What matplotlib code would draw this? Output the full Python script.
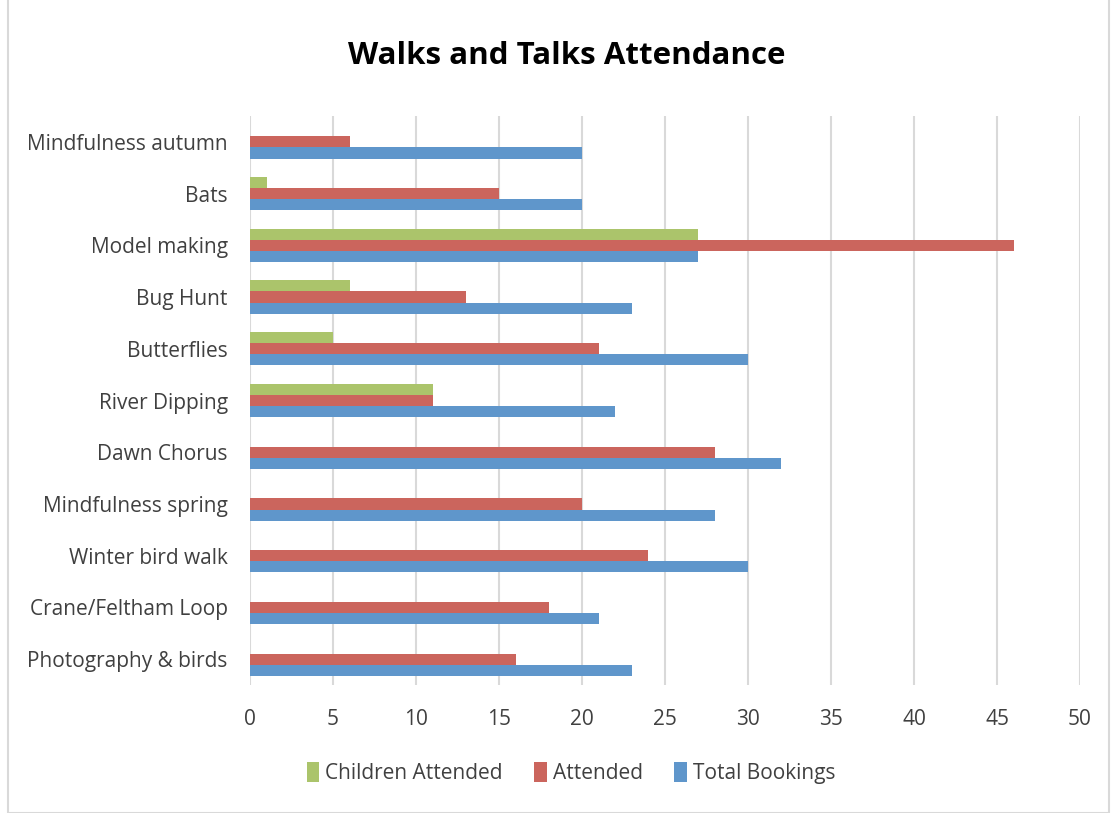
import matplotlib.pyplot as plt
import matplotlib as mpl
import numpy as np

mpl.rcParams['font.family'] = ['Open Sans', 'DejaVu Sans']

# categories listed bottom to top
categories = ["Photography & birds", "Crane/Feltham Loop", "Winter bird walk",
              "Mindfulness spring", "Dawn Chorus", "River Dipping", "Butterflies",
              "Bug Hunt", "Model making", "Bats", "Mindfulness autumn"]
total_bookings = [23, 21, 30, 28, 32, 22, 30, 23, 27, 20, 20]
attended = [16, 18, 24, 20, 28, 11, 21, 13, 46, 15, 6]
children_attended = [0, 0, 0, 0, 0, 11, 5, 6, 27, 1, 0]

BLUE = '#5F96CB'
RED = '#CB655D'
GREEN = '#ABC46B'
TEXT = '#404040'

fig = plt.figure(figsize=(11.17, 8.13), dpi=100)
ax = fig.add_axes([250 / 1117, 1 - 685 / 813, 830 / 1117, 569 / 813])

y = np.arange(len(categories))
h = 0.215
ax.barh(y - h, total_bookings, height=h, color=BLUE, label="Total Bookings", zorder=3)
ax.barh(y, attended, height=h, color=RED, label="Attended", zorder=3)
ax.barh(y + h, children_attended, height=h, color=GREEN, label="Children Attended", zorder=3)

ax.set_xlim(0, 50)
ax.set_ylim(-0.5, len(categories) - 0.5)
ax.set_xticks(range(0, 51, 5))
ax.set_yticks(y)
ax.set_yticklabels(categories)
ax.tick_params(axis='both', length=0, labelsize=15, colors=TEXT)
ax.tick_params(axis='y', pad=16)
ax.tick_params(axis='x', pad=17)
ax.grid(axis='x', color='#D9D9D9', linewidth=1.5, zorder=0)
for s in ax.spines.values():
    s.set_visible(False)

fig.text(567 / 1117, 1 - 56 / 813, "Walks and Talks Attendance", ha='center', va='center',
         fontsize=22.5, fontweight='bold', color='black')

handles, labels = ax.get_legend_handles_labels()
fig.legend(handles[::-1], labels[::-1], loc='center', bbox_to_anchor=(571 / 1117, 1 - 773 / 813),
           ncol=3, frameon=False, fontsize=15, handlelength=0.6, handleheight=1.1,
           handletextpad=0.3, columnspacing=1.5, labelcolor=TEXT)

# chart border
fig.patches.append(mpl.patches.Rectangle((8 / 1117, 0), 1 - 16 / 1117, 1.2,
                                         transform=fig.transFigure, fill=False,
                                         edgecolor='#D9D9D9', linewidth=1.5))

fig.savefig("out.png", dpi=100)
